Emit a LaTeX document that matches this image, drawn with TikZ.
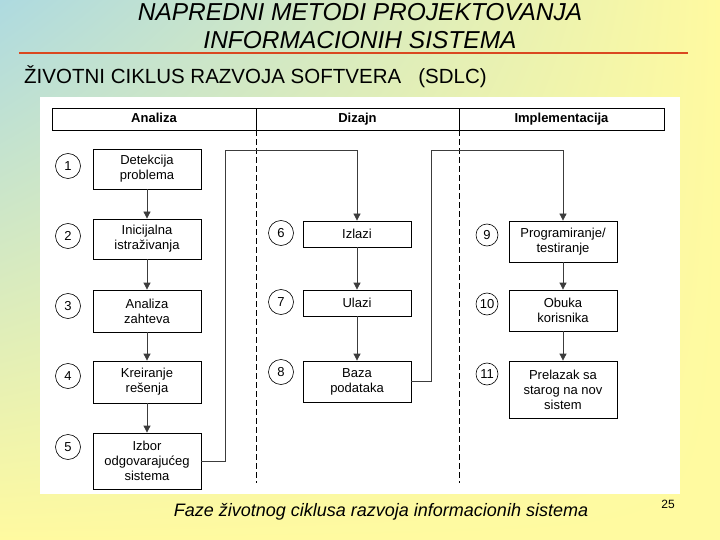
\documentclass[tikz,border=0pt]{standalone}
\usepackage{fontspec}
\setmainfont{Liberation Sans}
\usepackage{xcolor}
\usetikzlibrary{shapes, positioning, arrows.meta, shadings}

\definecolor{plavapozadina}{RGB}{174,218,224}
\definecolor{zutapozadina}{RGB}{255,250,160}
\definecolor{crvenalinija}{RGB}{218,72,32}
\definecolor{sivalinija}{RGB}{60,60,60}

\begin{document}
\begin{tikzpicture}[x=1pt,y=-1pt,
    faza/.style={draw, fill=white, line width=0.8pt, minimum width=108, align=center, inner sep=2pt, font=\fontsize{13}{15}\selectfont},
    broj/.style={draw, circle, line width=0.6pt, minimum size=25, inner sep=0pt, font=\fontsize{13}{15}\selectfont},
    zaglavlje/.style={draw, line width=0.8pt, minimum height=22, text height=9.5pt, text depth=2.5pt, font=\fontsize{13}{15}\selectfont\bfseries},
    tok/.style={-{Triangle[length=7pt,width=7pt]}, line width=0.8pt, sivalinija},
    granica/.style={line width=0.8pt, dash pattern=on 6pt off 3pt}]

      \useasboundingbox (0,0) rectangle (720,540);
      \shade[upper left=plavapozadina, upper right=zutapozadina, lower left=zutapozadina, lower right=zutapozadina] (0,0) rectangle (720,540);

      \node[font=\fontsize{24.5}{28}\selectfont\itshape, align=center] (naslov) at (360,26) {NAPREDNI METODI PROJEKTOVANJA\\INFORMACIONIH SISTEMA};
      \draw[crvenalinija, line width=2.5pt] (19,53) -- (688,53);
      \node[font=\fontsize{20.5}{24}\selectfont, anchor=base west, inner sep=0pt] (podnaslov) at (24,84) {ŽIVOTNI CIKLUS RAZVOJA SOFTVERA\ \ \ (SDLC)};

      \fill[white] (40,97) rectangle (680,494);

      \node[zaglavlje, minimum width=204] (analiza) at (154,119) {Analiza};
      \node[zaglavlje, minimum width=203] (dizajn) at (357.5,119) {Dizajn};
      \node[zaglavlje, minimum width=205] (impl) at (561.5,119) {Implementacija};

      \draw[granica] (analiza.south east) -- ++(0,353);
      \draw[granica] (dizajn.south east) -- ++(0,353);

      \node[faza, minimum height=40] (f1) at (147,169) {Detekcija\\problema};
      \node[faza, minimum height=40] (f2) at (147,239) {Inicijalna\\istraživanja};
      \node[faza, minimum height=42] (f3) at (147,311) {Analiza\\zahteva};
      \node[faza, minimum height=42] (f4) at (147,382) {Kreiranje\\rešenja};
      \node[faza, minimum height=56] (f5) at (147,461) {Izbor\\odgovarajućeg\\sistema};

      \node[faza, minimum height=26] (f6) at (357,234) {Izlazi};
      \node[faza, minimum height=26] (f7) at (357,303) {Ulazi};
      \node[faza, minimum height=41] (f8) at (357,381.5) {Baza\\podataka};

      \node[faza, minimum height=41] (f9) at (563,241.5) {Programiranje/\\testiranje};
      \node[faza, minimum height=41] (f10) at (563,310.5) {Obuka\\korisnika};
      \node[faza, minimum height=57] (f11) at (563,389.5) {Prelazak sa\\starog na nov\\sistem};

      \node[broj] (b1) at (68,166) {1};
      \node[broj] (b2) at (68,236) {2};
      \node[broj] (b3) at (68,306) {3};
      \node[broj] (b4) at (68,376) {4};
      \node[broj] (b5) at (68,447) {5};
      \node[broj] (b6) at (281,233) {6};
      \node[broj] (b7) at (281,302) {7};
      \node[broj] (b8) at (281,372) {8};
      \node[broj, minimum size=22] (b9) at (487,235) {9};
      \node[broj, minimum size=22] (b10) at (487,304) {10};
      \node[broj, minimum size=22] (b11) at (487,374) {11};

      \draw[tok] (f1) -- (f2);
      \draw[tok] (f2) -- (f3);
      \draw[tok] (f3) -- (f4);
      \draw[tok] (f4) -- (f5);
      \draw[tok] (f6) -- (f7);
      \draw[tok] (f7) -- (f8);
      \draw[tok] (f9) -- (f10);
      \draw[tok] (f10) -- (f11);

      \coordinate (k1) at (225,150);
      \coordinate (k2) at (431,150);
      \draw[tok] (f5.east) -| (k1) -| (f6.north);
      \draw[tok] (f8.east) -| (k2) -| (f9.north);

      \node[font=\fontsize{18}{22}\selectfont\itshape] (potpis) at (381,512) {Faze životnog ciklusa razvoja informacionih sistema};
      \node[font=\fontsize{12}{14}\selectfont] (strana) at (668,504) {25};

    \end{tikzpicture}
\end{document}
